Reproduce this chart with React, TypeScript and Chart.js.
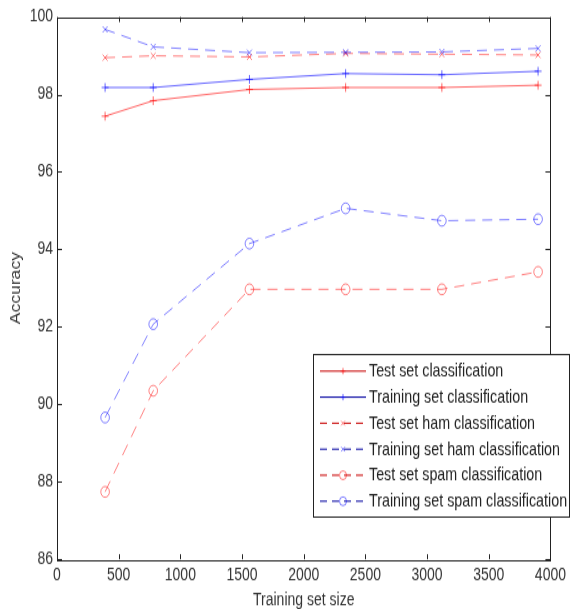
import React, { useEffect, useRef } from "react";
import { Chart, registerables } from "chart.js";

Chart.register(...registerables);

// ---- data ----
const trainingSizes = [390, 780, 1560, 2340, 3120, 3900];
const testSet = [97.44, 97.84, 98.13, 98.18, 98.18, 98.24];
const trainingSet = [98.18, 98.18, 98.39, 98.54, 98.51, 98.6];
const testHam = [98.95, 99.0, 98.97, 99.06, 99.04, 99.02];
const trainingHam = [99.68, 99.23, 99.08, 99.09, 99.1, 99.19];
const testSpam = [87.74, 90.35, 92.97, 92.97, 92.97, 93.42];
const trainingSpam = [89.66, 92.07, 94.15, 95.06, 94.74, 94.78];

const seriesLabels = [
  "Test set classification",
  "Training set classification",
  "Test set ham classification",
  "Training set ham classification",
  "Test set spam classification",
  "Training set spam classification",
];
const xAxisTitle = "Training set size";
const yAxisTitle = "Accuracy";
const xMin = 0;
const xMax = 4000;
const xStep = 500;
const yMin = 86;
const yMax = 100;
const yStep = 2;

// ---- styles ----
const W = 571;
const H = 609;
const STRETCH = 1.25;
const CH = Math.round(H / STRETCH);
const FONT_FAMILY = "'Liberation Sans', Arial, Helvetica, sans-serif";
const RED = "rgba(255,0,0,0.62)";
const BLUE = "rgba(0,0,255,0.62)";
const RED_D = "rgba(255,0,0,0.5)";
const BLUE_D = "rgba(0,0,255,0.5)";
const RED_L = "rgba(200,0,0,1)";
const BLUE_L = "rgba(0,0,160,1)";
const DASH = [10, 7];

type Sty = { color: string; legendColor: string; dash: number[]; marker: string; radius: number };
const styles: Sty[] = [
  { color: RED, legendColor: RED_L, dash: [], marker: "cross", radius: 3.5 },
  { color: BLUE, legendColor: BLUE_L, dash: [], marker: "cross", radius: 3.5 },
  { color: RED_D, legendColor: RED_L, dash: DASH, marker: "crossRot", radius: 3.5 },
  { color: BLUE_D, legendColor: BLUE_L, dash: DASH, marker: "crossRot", radius: 3.5 },
  { color: RED_D, legendColor: RED_L, dash: DASH, marker: "circle", radius: 4.3 },
  { color: BLUE_D, legendColor: BLUE_L, dash: DASH, marker: "circle", radius: 4.3 },
];
const seriesValues = [testSet, trainingSet, testHam, trainingHam, testSpam, trainingSpam];

function drawMarker(ctx: CanvasRenderingContext2D, kind: string, x: number, y: number, r: number) {
  ctx.beginPath();
  if (kind === "cross") {
    ctx.moveTo(x - r, y);
    ctx.lineTo(x + r, y);
    ctx.moveTo(x, y - r);
    ctx.lineTo(x, y + r);
  } else if (kind === "crossRot") {
    const d = r * 0.75;
    ctx.moveTo(x - d, y - d);
    ctx.lineTo(x + d, y + d);
    ctx.moveTo(x - d, y + d);
    ctx.lineTo(x + d, y - d);
  } else {
    ctx.arc(x, y, r, 0, Math.PI * 2);
  }
  ctx.stroke();
}

const framePlugin = {
  id: "matlabFrame",
  afterDatasetsDraw(chart: any) {
    const { ctx, chartArea } = chart;
    const { left, right, top, bottom } = chartArea;
    const xs = chart.scales.x;
    const ys = chart.scales.y;
    ctx.save();
    ctx.strokeStyle = "#222";
    ctx.lineWidth = 1;
    ctx.setLineDash([]);
    ctx.strokeRect(Math.round(left) + 0.5, Math.round(top) + 0.5, Math.round(right - left), Math.round(bottom - top));
    ctx.beginPath();
    const tlx = 4;
    const tly = 5;
    xs.ticks.forEach((t: any) => {
      const px = Math.round(xs.getPixelForValue(t.value)) + 0.5;
      ctx.moveTo(px, bottom);
      ctx.lineTo(px, bottom - tlx);
      ctx.moveTo(px, top);
      ctx.lineTo(px, top + tlx);
    });
    ys.ticks.forEach((t: any) => {
      const py = Math.round(ys.getPixelForValue(t.value)) + 0.5;
      ctx.moveTo(left, py);
      ctx.lineTo(left + tly, py);
      ctx.moveTo(right, py);
      ctx.lineTo(right - tly, py);
    });
    ctx.stroke();
    ctx.restore();
  },
  afterDraw(chart: any) {
    const ctx: CanvasRenderingContext2D = chart.ctx;
    const bx = 313.5;
    const by = 283.5;
    const bw = 256;
    const bh = 130;
    ctx.save();
    ctx.fillStyle = "#fff";
    ctx.fillRect(bx, by, bw, bh);
    ctx.strokeStyle = "#222";
    ctx.lineWidth = 1;
    ctx.setLineDash([]);
    ctx.strokeRect(bx, by, bw, bh);
    const rowY0 = 296.8;
    const rowStep = 20.8;
    ctx.font = `14.3px ${FONT_FAMILY}`;
    ctx.textBaseline = "middle";
    ctx.textAlign = "left";
    seriesLabels.forEach((label, i) => {
      const st = styles[i];
      const y = rowY0 + i * rowStep;
      ctx.strokeStyle = st.legendColor;
      ctx.lineWidth = 1;
      ctx.setLineDash(st.dash.length ? [7, 5] : []);
      ctx.beginPath();
      ctx.moveTo(320, y);
      ctx.lineTo(366, y);
      ctx.stroke();
      ctx.setLineDash([]);
      ctx.strokeStyle = st.color;
      drawMarker(ctx, st.marker, 343, y, st.marker === "circle" ? 3.5 : 2.5);
      ctx.fillStyle = "#222";
      ctx.fillText(label, 369, y + 0.5);
    });
    ctx.restore();
  },
};

export default function App() {
  const ref = useRef<HTMLCanvasElement | null>(null);
  useEffect(() => {
    if (!ref.current) return;
    const font = { family: FONT_FAMILY, size: 14 };
    const datasets = seriesLabels.map((label, i) => {
      const st = styles[i];
      return {
        label,
        data: trainingSizes.map((x, j) => ({ x, y: seriesValues[i][j] })),
        borderColor: st.color,
        borderWidth: 1,
        borderDash: st.dash,
        tension: 0,
        fill: false,
        pointStyle: st.marker,
        pointRadius: st.radius,
        pointBorderColor: st.color,
        pointBackgroundColor: "rgba(0,0,0,0)",
        pointBorderWidth: 1,
        order: 6 - i,
      };
    });
    const chart = new Chart(ref.current, {
      type: "line",
      data: { datasets },
      options: {
        animation: false,
        responsive: false,
        devicePixelRatio: 1,
        events: [],
        layout: { padding: { left: 0, top: 13.6, right: 15, bottom: 0 } },
        plugins: { legend: { display: false }, tooltip: { enabled: false } },
        scales: {
          x: {
            type: "linear",
            min: xMin,
            max: xMax,
            ticks: {
              stepSize: xStep,
              padding: 5,
              font,
              color: "#333",
              maxRotation: 0,
              autoSkip: false,
              callback: (v: any) => String(v),
            },
            grid: { display: false, drawTicks: false },
            border: { display: false },
            title: {
              display: true,
              text: xAxisTitle,
              font,
              color: "#333",
              padding: { top: 0, bottom: -2 },
            },
            afterFit: (s: any) => {
              s.height = CH - 447.2;
            },
          },
          y: {
            type: "linear",
            min: yMin,
            max: yMax,
            ticks: {
              stepSize: yStep,
              padding: 4,
              font,
              color: "#333",
              callback: (v: any) => String(v),
            },
            grid: { display: false, drawTicks: false },
            border: { display: false },
            title: {
              display: true,
              text: yAxisTitle,
              font,
              color: "#333",
              padding: { top: 8, bottom: 0 },
            },
            afterFit: (s: any) => {
              s.width = 57;
            },
          },
        },
      },
      plugins: [framePlugin],
    } as any);
    return () => chart.destroy();
  }, []);
  return (
    <div style={{ position: "fixed", left: 0, top: 0, width: W, height: H, overflow: "hidden", background: "#fff" }}>
      <canvas
        ref={ref}
        width={W}
        height={CH}
        style={{
          position: "absolute",
          left: 0,
          top: 0,
          transform: `scaleY(${H / CH})`,
          transformOrigin: "0 0",
        }}
      />
    </div>
  );
}
